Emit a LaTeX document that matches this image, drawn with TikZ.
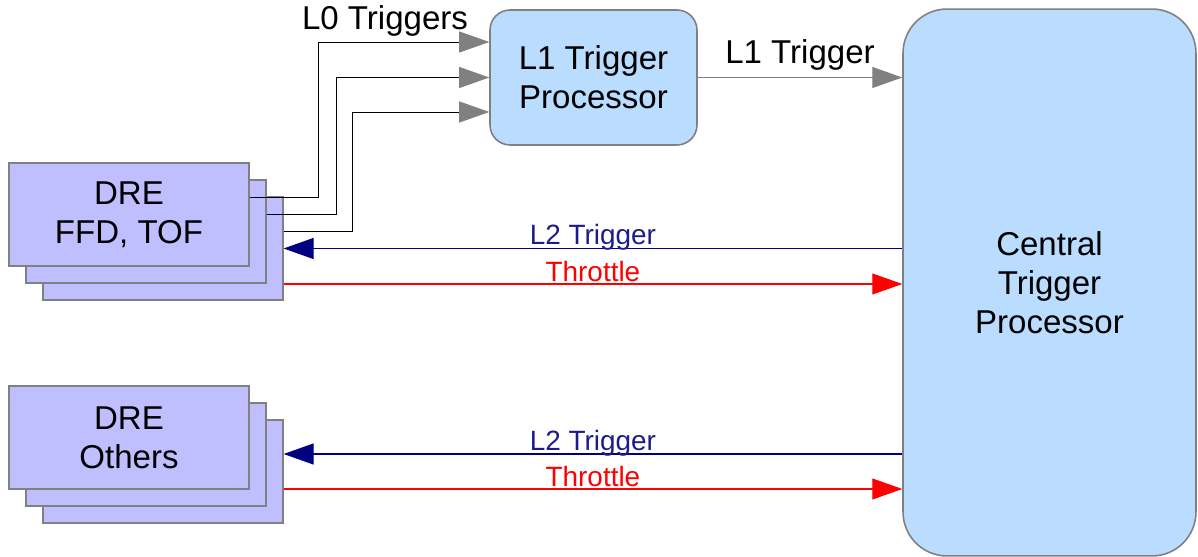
\documentclass[tikz,border=0pt]{standalone}
\usepackage{fontspec}
\setmainfont{Liberation Sans}
\usetikzlibrary{arrows.meta}

\definecolor{dreFill}{HTML}{BFBFFF}
\definecolor{procFill}{HTML}{B9DCFF}
\definecolor{boxLine}{HTML}{808080}
\definecolor{ltwoBlue}{HTML}{000080}
\definecolor{ltwoText}{HTML}{1C1C8C}
\definecolor{throttleRed}{HTML}{FF0000}

\newcommand{\BoxFont}{\fontsize{18.8}{22.3}\selectfont}
\newcommand{\LinkFont}{\fontsize{15.9}{18}\selectfont}
\providecommand{\CardStep}{17}

% Three stacked DRE cards: #1 name, #2/#3 centre of the front card, #4 text
\newcommand{\DrawDREStack}[4]{%
    \foreach \k in {2,1} {
        \node[drecard] (#1\k) at (#2+\k*\CardStep,#3+\k*\CardStep) {};
    }
    \node[drecard] (#1) at (#2,#3) {#4};
}

\begin{document}
\begin{tikzpicture}[x=0.02cm,y=-0.02cm,
    drecard/.style={draw=boxLine, line width=0.7pt, fill=dreFill,
        minimum width=4.8cm, minimum height=2.06cm, inner sep=0pt,
        align=center, font=\BoxFont},
    procbox/.style={draw=boxLine, line width=0.9pt, fill=procFill,
        inner sep=0pt, align=center, font=\BoxFont},
    tip/.style={-{Triangle[length=0.6cm,width=0.42cm,color=#1]}},
    l0line/.style={black, line width=0.5pt, tip=boxLine},
    l1line/.style={boxLine, line width=0.6pt, tip=boxLine},
    l2line/.style={ltwoBlue, line width=0.6pt, tip=ltwoBlue},
    thrline/.style={throttleRed, line width=0.6pt, tip=throttleRed},
    linklabel/.style={midway, anchor=base, yshift=0.07cm, font=\LinkFont}
]

\useasboundingbox (0,0) rectangle (1198,557);

% =====================================================
% BOXES
% =====================================================
\DrawDREStack{ffd}{129}{214.5}{DRE\\FFD, TOF}
\DrawDREStack{oth}{129}{437.5}{DRE\\Others}

\node[procbox, rounded corners=0.4cm, minimum width=4.14cm,
    minimum height=2.7cm] (l1p) at (593.5,77.5) {L1 Trigger\\Processor};

\node[procbox, rounded corners=0.88cm, minimum width=5.86cm,
    minimum height=10.94cm] (ctp) at (1049.5,282.5)
    {Central\\Trigger\\Processor};

% =====================================================
% L0 TRIGGERS
% =====================================================
\node[anchor=base, font=\BoxFont] (l0lab) at (385,30) {L0 Triggers};

\draw[l0line] ([yshift=0.34cm]ffd.east) -- ++(69,0) |- ([yshift=0.71cm]l1p.west);
\draw[l0line] ([yshift=0.34cm]ffd1.east) -- ++(70,0) |- (l1p.west);
\draw[l0line] ([yshift=0.34cm]ffd2.east) -- ++(69,0) |- ([yshift=-0.69cm]l1p.west);

% =====================================================
% L1 TRIGGER
% =====================================================
\draw[l1line] (l1p.east) -- (l1p.east -| ctp.west)
    node[midway, anchor=base, yshift=0.28cm, text=black, font=\BoxFont] (l1lab) {L1 Trigger};

% =====================================================
% L2 TRIGGER AND THROTTLE
% =====================================================
\coordinate (ffdltwo) at (ffd2.east);
\coordinate (ffdthr) at ([yshift=-0.71cm]ffd2.east);
\coordinate (othltwo) at ([yshift=0.35cm]oth2.east);
\coordinate (oththr) at ([yshift=-0.35cm]oth2.east);

\draw[l2line] (ffdltwo -| ctp.west) -- (ffdltwo)
    node[linklabel, text=ltwoText] (ffdltwolab) {L2 Trigger};
\draw[thrline] (ffdthr) -- (ffdthr -| ctp.west)
    node[linklabel, yshift=-0.02cm, text=throttleRed] (ffdthrlab) {Throttle};

\draw[l2line] (othltwo -| ctp.west) -- (othltwo)
    node[linklabel, text=ltwoText] (othltwolab) {L2 Trigger};
\draw[thrline] (oththr) -- (oththr -| ctp.west)
    node[linklabel, yshift=-0.02cm, text=throttleRed] (oththrlab) {Throttle};

\end{tikzpicture}
\end{document}
